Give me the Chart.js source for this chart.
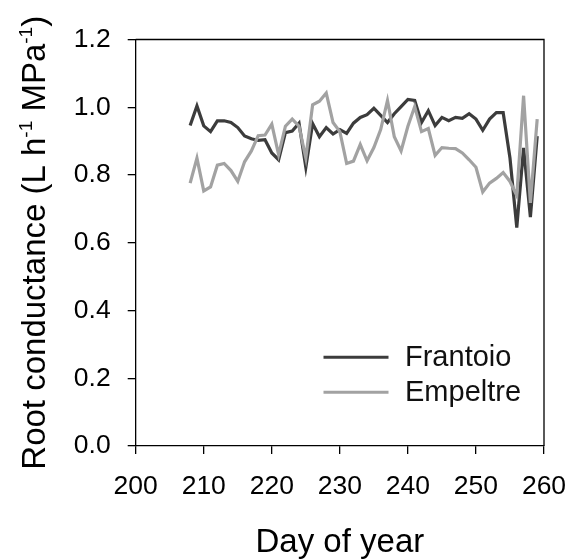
<!DOCTYPE html>
<html>
<head>
<meta charset="utf-8">
<script src="https://cdn.jsdelivr.net/npm/chart.js@4.4.1/dist/chart.umd.min.js"></script>
<style>
  html, body { margin: 0; padding: 0; background: #fff; }
  #wrap { width: 569px; height: 560px; position: relative; }
</style>
</head>
<body>
<div id="wrap"><canvas id="c"></canvas></div>
<script>
// Root conductance of two olive cultivars over the season.
var days = [208, 209, 210, 211, 212, 213, 214, 215, 216, 217, 218, 219, 220, 221, 222, 223, 224, 225,
  226, 227, 228, 229, 230, 231, 232, 233, 234, 235, 236, 237, 238, 239, 240, 241, 242, 243, 244, 245,
  246, 247, 248, 249, 250, 251, 252, 253, 254, 255, 256, 257, 258, 259];

var frantoio = [0.946, 1.004, 0.945, 0.928, 0.960, 0.960, 0.955, 0.940, 0.915, 0.907, 0.902, 0.904,
  0.865, 0.845, 0.925, 0.930, 0.953, 0.823, 0.952, 0.913, 0.940, 0.921, 0.934, 0.923, 0.953, 0.970,
  0.978, 0.997, 0.976, 0.955, 0.981, 1.002, 1.023, 1.020, 0.955, 0.990, 0.946, 0.970, 0.960, 0.970,
  0.967, 0.981, 0.965, 0.932, 0.965, 0.984, 0.984, 0.850, 0.645, 0.880, 0.676, 0.915];

var empeltre = [0.776, 0.850, 0.753, 0.765, 0.829, 0.834, 0.813, 0.781, 0.839, 0.871, 0.916, 0.918,
  0.950, 0.860, 0.944, 0.965, 0.944, 0.850, 1.007, 1.018, 1.042, 0.955, 0.928, 0.834, 0.841, 0.890,
  0.842, 0.881, 0.934, 1.020, 0.913, 0.871, 0.944, 1.002, 0.928, 0.937, 0.858, 0.881, 0.879, 0.878,
  0.865, 0.845, 0.823, 0.750, 0.776, 0.790, 0.807, 0.781, 0.739, 1.034, 0.718, 0.965];

var xTicks = [200, 210, 220, 230, 240, 250, 260];
var yTicks = [0.0, 0.2, 0.4, 0.6, 0.8, 1.0, 1.2];

var FONT = '"Liberation Sans", Arial, sans-serif';
var DARK = '#3c3c3c';
var LIGHT = '#a2a2a2';

function pts(vals) {
  return days.map(function (d, i) { return { x: d, y: vals[i] }; });
}

// box on top/right + axis titles + legend inside the plot
var decor = {
  id: 'decor',
  afterDraw: function (chart) {
    var ctx = chart.ctx, a = chart.chartArea;
    ctx.save();
    ctx.strokeStyle = '#000';
    ctx.lineWidth = 1.3;
    ctx.beginPath();
    ctx.moveTo(a.left, a.top);
    ctx.lineTo(a.right, a.top);
    ctx.lineTo(a.right, a.bottom);
    ctx.stroke();

    ctx.fillStyle = '#000';
    // x title
    ctx.font = '33px ' + FONT;
    ctx.textAlign = 'center';
    ctx.textBaseline = 'alphabetic';
    ctx.fillText('Day of year', (a.left + a.right) / 2, 552);

    // y title with superscripts
    var parts = [
      ['Root conductance (L h', false], ['-1', true], [' MPa', false], ['-1', true], [')', false]
    ];
    var big = '33px ' + FONT, small = '19px ' + FONT;
    var total = 0;
    parts.forEach(function (p) { ctx.font = p[1] ? small : big; total += ctx.measureText(p[0]).width; });
    ctx.translate(45, (a.top + a.bottom) / 2);
    ctx.rotate(-Math.PI / 2);
    ctx.textAlign = 'left';
    var x = -total / 2;
    parts.forEach(function (p) {
      ctx.font = p[1] ? small : big;
      ctx.fillText(p[0], x, p[1] ? -13 : 0);
      x += ctx.measureText(p[0]).width;
    });
    ctx.restore();

    // legend
    ctx.save();
    var rows = [[chart.data.datasets[1], 357.3], [chart.data.datasets[0], 392.3]];
    rows.forEach(function (r) {
      ctx.strokeStyle = r[0].borderColor;
      ctx.lineWidth = 3;
      ctx.beginPath();
      ctx.moveTo(323.5, r[1]);
      ctx.lineTo(388.5, r[1]);
      ctx.stroke();
      ctx.fillStyle = '#111';
      ctx.font = '29px ' + FONT;
      ctx.textAlign = 'left';
      ctx.textBaseline = 'middle';
      ctx.fillText(r[0].label, 405, r[1] + 1);
    });
    ctx.restore();
  }
};

new Chart(document.getElementById('c'), {
  type: 'line',
  data: {
    datasets: [
      { label: 'Empeltre', data: pts(empeltre), borderColor: LIGHT, borderWidth: 3.2,
        pointRadius: 0, tension: 0, order: 0 },
      { label: 'Frantoio', data: pts(frantoio), borderColor: DARK, borderWidth: 3.2,
        pointRadius: 0, tension: 0, order: 1 }
    ]
  },
  options: {
    responsive: true,
    maintainAspectRatio: false,
    animation: false,
    layout: { padding: { top: 39.5, right: 25, left: 0, bottom: 0 } },
    plugins: { legend: { display: false }, tooltip: { enabled: false } },
    scales: {
      x: {
        type: 'linear', min: 200, max: 260,
        afterBuildTicks: function (s) { s.ticks = xTicks.map(function (v) { return { value: v }; }); },
        afterFit: function (s) { s.height = 114; s.paddingLeft = 0; s.paddingRight = 0; },
        ticks: { color: '#000', font: { family: FONT, size: 26.5 }, padding: 17, maxRotation: 0,
                 callback: function (v) { return String(v); } },
        grid: { drawOnChartArea: false, drawTicks: true, tickLength: 8, color: '#000', lineWidth: 1.3 },
        border: { display: true, color: '#000', width: 1.3 }
      },
      y: {
        min: 0, max: 1.2,
        afterBuildTicks: function (s) { s.ticks = yTicks.map(function (v) { return { value: v }; }); },
        afterFit: function (s) { s.width = 135.7; s.paddingTop = 0; s.paddingBottom = 0; },
        ticks: { color: '#000', font: { family: FONT, size: 26.5 }, padding: 17,
                 callback: function (v) { return v.toFixed(1); } },
        grid: { drawOnChartArea: false, drawTicks: true, tickLength: 8, color: '#000', lineWidth: 1.3 },
        border: { display: true, color: '#000', width: 1.3 }
      }
    }
  },
  plugins: [decor]
});
</script>
</body>
</html>
